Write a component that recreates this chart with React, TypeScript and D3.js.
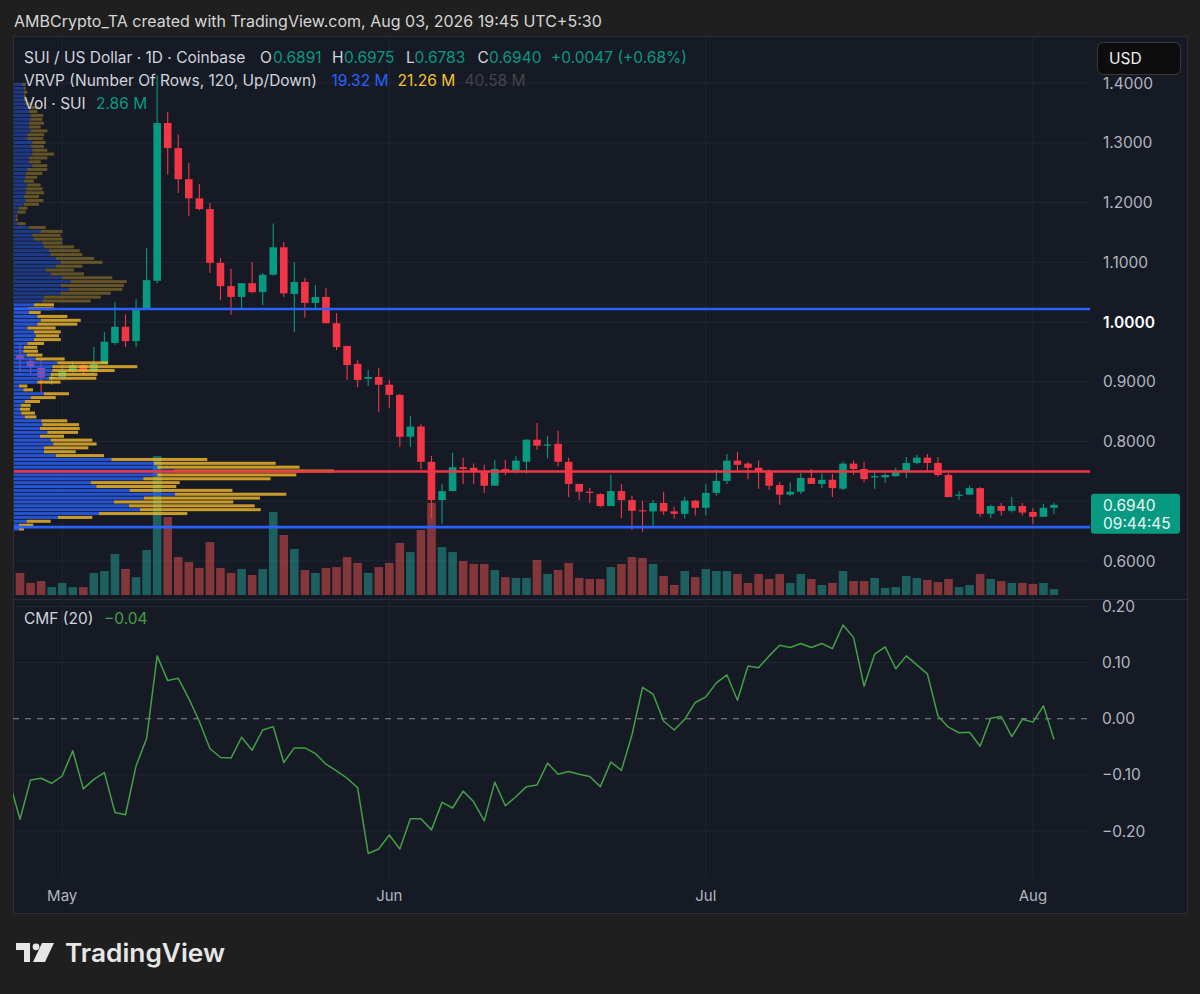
import React from 'react';
import * as d3 from 'd3';

// SUI / USD daily candles, Coinbase, first candle on 27 Apr 2026
const START_DAY = '2026-04-27';

const OPEN = [
  0.945, 0.935, 0.923, 0.906, 0.908, 0.918, 0.928, 0.918, 0.930, 0.965,
  0.992, 0.968, 1.023, 1.069, 1.333, 1.291, 1.239, 1.207, 1.189, 1.099,
  1.060, 1.042, 1.065, 1.050, 1.079, 1.125, 1.047, 1.067, 1.032, 1.042,
  0.998, 0.960, 0.930, 0.905, 0.908, 0.895, 0.878, 0.808, 0.825, 0.766,
  0.702, 0.717, 0.757, 0.756, 0.749, 0.726, 0.754, 0.751, 0.766, 0.803,
  0.793, 0.796, 0.766, 0.729, 0.716, 0.712, 0.692, 0.717, 0.702, 0.685,
  0.683, 0.697, 0.683, 0.679, 0.701, 0.689, 0.714, 0.734, 0.768, 0.763,
  0.756, 0.749, 0.727, 0.711, 0.716, 0.739, 0.729, 0.736, 0.721, 0.763,
  0.754, 0.740, 0.740, 0.742, 0.751, 0.764, 0.773, 0.764, 0.744, 0.709,
  0.711, 0.722, 0.679, 0.692, 0.684, 0.692, 0.682, 0.674, 0.6891,
];
const HIGH = [
  0.962, 0.940, 0.936, 0.915, 0.928, 0.933, 0.931, 0.958, 0.983, 1.033,
  1.013, 1.038, 1.124, 1.413, 1.351, 1.314, 1.266, 1.231, 1.199, 1.107,
  1.089, 1.065, 1.100, 1.082, 1.165, 1.134, 1.100, 1.074, 1.062, 1.057,
  1.015, 0.960, 0.936, 0.920, 0.923, 0.903, 0.880, 0.843, 0.829, 0.776,
  0.729, 0.781, 0.773, 0.763, 0.761, 0.769, 0.769, 0.776, 0.804, 0.831,
  0.809, 0.818, 0.773, 0.729, 0.722, 0.714, 0.744, 0.729, 0.709, 0.701,
  0.702, 0.716, 0.691, 0.707, 0.702, 0.729, 0.753, 0.779, 0.783, 0.766,
  0.768, 0.753, 0.732, 0.732, 0.747, 0.754, 0.747, 0.746, 0.766, 0.768,
  0.766, 0.751, 0.747, 0.756, 0.774, 0.778, 0.779, 0.774, 0.747, 0.717,
  0.726, 0.724, 0.694, 0.697, 0.707, 0.697, 0.689, 0.696, 0.6975,
];
const LOW = [
  0.916, 0.911, 0.881, 0.895, 0.905, 0.915, 0.912, 0.915, 0.930, 0.962,
  0.958, 0.958, 1.023, 1.065, 1.247, 1.216, 1.177, 1.187, 1.082, 1.037,
  1.012, 1.023, 1.048, 1.028, 1.078, 1.042, 0.983, 1.007, 1.023, 0.998,
  0.953, 0.903, 0.891, 0.893, 0.850, 0.856, 0.791, 0.791, 0.753, 0.671,
  0.662, 0.717, 0.729, 0.729, 0.714, 0.726, 0.744, 0.747, 0.746, 0.786,
  0.772, 0.758, 0.707, 0.702, 0.697, 0.690, 0.692, 0.672, 0.652, 0.649,
  0.657, 0.677, 0.671, 0.671, 0.676, 0.676, 0.709, 0.729, 0.751, 0.737,
  0.721, 0.719, 0.694, 0.709, 0.712, 0.729, 0.722, 0.707, 0.719, 0.744,
  0.732, 0.721, 0.731, 0.741, 0.739, 0.762, 0.751, 0.741, 0.707, 0.702,
  0.711, 0.674, 0.672, 0.676, 0.681, 0.676, 0.662, 0.674, 0.6783,
];
const CLOSE = [
  0.938, 0.925, 0.908, 0.908, 0.918, 0.928, 0.918, 0.930, 0.967, 0.992,
  0.968, 1.020, 1.070, 1.333, 1.291, 1.239, 1.207, 1.189, 1.099, 1.060,
  1.042, 1.065, 1.050, 1.079, 1.125, 1.048, 1.067, 1.032, 1.042, 0.998,
  0.958, 0.928, 0.903, 0.908, 0.895, 0.878, 0.808, 0.825, 0.766, 0.702,
  0.717, 0.757, 0.754, 0.749, 0.726, 0.754, 0.749, 0.768, 0.803, 0.793,
  0.795, 0.766, 0.729, 0.716, 0.714, 0.692, 0.717, 0.702, 0.684, 0.683,
  0.697, 0.683, 0.679, 0.701, 0.689, 0.714, 0.734, 0.768, 0.761, 0.756,
  0.749, 0.726, 0.711, 0.716, 0.739, 0.729, 0.736, 0.722, 0.763, 0.754,
  0.737, 0.742, 0.744, 0.749, 0.764, 0.773, 0.764, 0.744, 0.707, 0.711,
  0.722, 0.679, 0.692, 0.684, 0.692, 0.681, 0.674, 0.689, 0.6940,
];
// volume, millions of SUI
const VOLUME = [
  10.6, 5.8, 6.7, 3.8, 5.8, 3.8, 3.8, 10.6, 11.5, 19.7,
  12.5, 8.6, 21.6, 66.7, 37.4, 18.2, 15.8, 13.0, 25.4, 13.0,
  10.6, 12.5, 9.6, 12.5, 39.8, 28.8, 22.1, 12.0, 10.6, 13.0,
  13.4, 18.2, 15.4, 10.6, 13.4, 15.4, 25.0, 20.6, 31.2, 44.2,
  23.0, 20.6, 16.3, 14.9, 14.9, 12.0, 8.6, 8.2, 8.2, 16.8,
  10.1, 12.0, 15.4, 8.2, 7.7, 7.7, 13.4, 14.9, 18.2, 17.8,
  14.9, 9.1, 4.8, 11.5, 8.6, 12.5, 11.5, 11.5, 10.1, 5.8,
  10.1, 7.7, 10.1, 5.8, 10.1, 7.7, 4.8, 5.8, 11.5, 6.7,
  6.7, 8.2, 3.4, 3.8, 9.1, 8.2, 7.2, 6.2, 7.7, 3.8,
  4.8, 10.1, 7.7, 6.7, 5.8, 5.8, 5.3, 5.8, 2.86,
];
// Chaikin Money Flow (20), starting one day before START_DAY
const CMF = [
  -0.112, -0.179, -0.109, -0.106, -0.115, -0.102, -0.057, -0.125, -0.108, -0.096,
  -0.167, -0.171, -0.084, -0.035, 0.112, 0.068, 0.072, 0.036, -0.005, -0.053,
  -0.069, -0.070, -0.033, -0.056, -0.020, -0.014, -0.078, -0.052, -0.052, -0.062,
  -0.081, -0.093, -0.106, -0.123, -0.240, -0.232, -0.207, -0.232, -0.178, -0.178,
  -0.198, -0.149, -0.159, -0.129, -0.148, -0.182, -0.113, -0.155, -0.139, -0.121,
  -0.118, -0.079, -0.099, -0.094, -0.099, -0.103, -0.121, -0.077, -0.092, -0.029,
  0.056, 0.044, -0.004, -0.020, -0.001, 0.029, 0.039, 0.064, 0.078, 0.033,
  0.094, 0.091, 0.112, 0.131, 0.127, 0.134, 0.127, 0.134, 0.125, 0.167,
  0.145, 0.058, 0.115, 0.128, 0.089, 0.112, 0.096, 0.080, 0.005, -0.015,
  -0.025, -0.024, -0.049, 0.001, 0.004, -0.032, -0.001, -0.006, 0.023, -0.037,
];
// visible range volume profile, rows from top (high price) to bottom
const VRVP_UP = [
  8.4, 10, 10, 10, 10, 11.7, 15, 15, 16.7, 16, 15, 15, 16.7, 13.3, 13.3, 18.3, 16.7, 18.3, 18.3, 15,
  15, 18.3, 13.3, 11.7, 11.7, 10, 13.3, 11.7, 11.7, 10, 11.7, 10, 5, 3.3, 1.7, 1.7, 3.3, 15, 26.7, 18.3,
  20, 28.3, 30, 35, 36.7, 41.7, 46.7, 41.7, 31.7, 36.7, 48.3, 56.7, 46.7, 55, 46.7, 30, 28.3, 20, 13.3, 15,
  23.3, 26.7, 23.3, 13.3, 20, 21.7, 20, 13.3, 10, 9.3, 12.7, 21.7, 43.3, 38.3, 38.3, 36.7, 35, 23.3, 5, 9.3,
  30, 16.7, 10.7, 6.7, 6, 7.3, 10.7, 27.3, 28.3, 26, 33.3, 26, 36.7, 39.3, 30, 30, 41.7, 97.3, 140, 143.3,
  160, 143.3, 129.3, 76.7, 82.3, 115.7, 161, 130, 100, 115, 126, 85, 44, 12.7, 5, 5,
];
const VRVP_DOWN = [
  3.3, 1.7, 3.3, 1.7, 3.3, 6.7, 10, 8.3, 12.7, 12.3, 15, 11.7, 16.7, 16.7, 16, 13.3, 13.3, 15, 21.7, 18.3,
  11.7, 15, 20, 16.7, 11.7, 10, 13.3, 16.7, 18.3, 15, 17.7, 15, 8.3, 8.3, 1.7, 2.3, 8.3, 16.7, 21.7, 28.3,
  28.3, 20, 30, 30.7, 31.7, 38.3, 41.7, 26.7, 28.3, 33.3, 50, 56, 63.3, 53.3, 50, 56.7, 48.3, 20, 26.7, 11.7,
  30, 40, 40, 28.3, 26.7, 23.3, 26.7, 16.7, 13.3, 14.7, 15.7, 29, 50.7, 85, 62.3, 46.7, 47.3, 23.3, 8.3, 9.7,
  25, 25, 15.3, 10, 10, 13.7, 11.7, 26, 36.7, 39.7, 30.7, 24, 41.7, 43.3, 44.3, 31.7, 48.3, 96, 121.7, 142.3,
  160, 139, 127.3, 89, 80, 102.7, 111.3, 116, 119.3, 125.7, 120.7, 88.3, 34.3, 24, 14.3, 5,
];
const VRVP_RANGE = [0.651, 1.4];
const VALUE_AREA_FIRST_ROW = 57;

const LEVELS = [
  { price: 1.0217, color: '#2962ff' },
  { price: 0.7497, color: '#f23645' },
  { price: 0.6567, color: '#2962ff' },
];
const PRICE_TICKS = [0.6, 0.7, 0.8, 0.9, 1.0, 1.1, 1.2, 1.3, 1.4];
const CMF_TICKS = [-0.2, -0.1, 0, 0.1, 0.2];

const FONT = "Inter, 'Noto Sans', 'DejaVu Sans', sans-serif";
const UP = '#089981';
const DOWN = '#f23645';
const GRID = '#232735';
const AXIS_TEXT = '#b2b5be';
const LABEL = '#d1d4dc';

const W = 1200;
const H = 994;
const PANE = { left: 13, right: 1187, top: 36, bottom: 913 };
const PLOT_RIGHT = 1090;

export default function App() {
  const start = new Date(START_DAY + 'T00:00:00Z');
  const dates = CLOSE.map((_, i) => d3.utcDay.offset(start, i));

  const x = d3.scaleUtc().domain([dates[0], dates[dates.length - 1]]).range([20, 1054]);
  const y = d3.scaleLinear().domain([0.6, 1.4]).range([561, 83]);
  const yVol = d3.scaleLinear().domain([0, d3.max(VOLUME) as number]).range([595, 456]);
  const yCmf = d3.scaleLinear().domain([-0.2, 0.2]).range([831, 606.5]);
  const rows = d3.scaleBand<number>()
    .domain(d3.range(VRVP_UP.length))
    .range([y(VRVP_RANGE[1]), y(VRVP_RANGE[0])])
    .paddingInner(0.22);
  const vx = d3.scaleLinear().domain([0, 320]).range([0, 320]);

  const bodyW = 7.6;
  const volW = 8.6;

  const cmfLine = d3.line<number>()
    .x((_, k) => x(d3.utcDay.offset(start, k - 1)))
    .y(v => yCmf(v));

  const months = x.ticks(d3.utcMonth.every(1) as d3.TimeInterval);
  const monthFmt = d3.utcFormat('%b');
  const last = CLOSE[CLOSE.length - 1];
  const lastY = y(last);

  const fmtCmf = (v: number) => (v < 0 ? '\u2212' : '') + Math.abs(v).toFixed(2);

  return (
    <div style={{ position: 'absolute', left: 0, top: 0 }}>
      <svg width={W} height={H} viewBox={`0 0 ${W} ${H}`} style={{ display: 'block', fontFamily: FONT }}>
        <defs>
          <clipPath id="plot">
            <rect x={PANE.left} y={PANE.top} width={PLOT_RIGHT - PANE.left} height={878 - PANE.top} />
          </clipPath>
        </defs>

        <rect x={0} y={0} width={W} height={H} fill="#1f1f1f" />
        <text x={14} y={27} fontSize={16} fill="#d6d6d6">
          AMBCrypto_TA created with TradingView.com, Aug 03, 2026 19:45 UTC+5:30
        </text>

        <rect x={PANE.left + 0.5} y={PANE.top + 0.5} width={PANE.right - PANE.left} height={PANE.bottom - PANE.top}
          fill="#161a25" stroke="#2a2e39" />

        {/* grid */}
        <g clipPath="url(#plot)">
          {PRICE_TICKS.map(t => (
            <line key={'pg' + t} x1={PANE.left} x2={PLOT_RIGHT} y1={y(t)} y2={y(t)} stroke={GRID} />
          ))}
          {CMF_TICKS.filter(t => t !== 0).map(t => (
            <line key={'cg' + t} x1={PANE.left} x2={PLOT_RIGHT} y1={yCmf(t)} y2={yCmf(t)} stroke={GRID} />
          ))}
          {months.map(m => (
            <line key={'vg' + m.getTime()} x1={x(m)} x2={x(m)} y1={PANE.top} y2={878} stroke={GRID} />
          ))}
        </g>
        <line x1={PANE.left} x2={PANE.right} y1={599.5} y2={599.5} stroke="#2a2e39" />

        {/* volume */}
        <g clipPath="url(#plot)">
          {VOLUME.map((v, i) => (
            <rect key={'v' + i} x={x(dates[i]) - volW / 2} y={yVol(v)} width={volW} height={yVol(0) - yVol(v)}
              fill={CLOSE[i] >= OPEN[i] ? 'rgba(38,166,154,0.5)' : 'rgba(239,83,80,0.5)'} />
          ))}
        </g>

        {/* candles */}
        <g clipPath="url(#plot)">
          {CLOSE.map((c, i) => {
            const o = OPEN[i];
            const col = c >= o ? UP : DOWN;
            const cx = x(dates[i]);
            const top = y(Math.max(o, c));
            const bh = Math.max(1, y(Math.min(o, c)) - top);
            return (
              <g key={'c' + i}>
                <line x1={cx} x2={cx} y1={y(HIGH[i])} y2={y(LOW[i])} stroke={col} strokeWidth={1.1} />
                <rect x={cx - bodyW / 2} y={top} width={bodyW} height={bh} fill={col} />
              </g>
            );
          })}
        </g>

        {/* volume profile */}
        <g>
          {VRVP_UP.map((u, r) => {
            const inArea = r >= VALUE_AREA_FIRST_ROW;
            const yy = rows(r) as number;
            const h = rows.bandwidth();
            return (
              <g key={'r' + r}>
                <rect x={PANE.left + 1} y={yy} width={vx(u)} height={h}
                  fill="#2962ff" fillOpacity={inArea ? 0.8 : 0.45} />
                <rect x={PANE.left + 1 + vx(u)} y={yy} width={vx(VRVP_DOWN[r])} height={h}
                  fill="#fbc02d" fillOpacity={inArea ? 0.78 : 0.34} />
              </g>
            );
          })}
        </g>

        {/* horizontal levels */}
        {LEVELS.map(l => (
          <line key={'l' + l.price} x1={PANE.left + 1} x2={PLOT_RIGHT} y1={y(l.price)} y2={y(l.price)}
            stroke={l.color} strokeWidth={2.6} />
        ))}

        {/* CMF */}
        <line x1={PANE.left} x2={PLOT_RIGHT} y1={yCmf(0)} y2={yCmf(0)} stroke="#8a8d96" strokeDasharray="6,6" />
        <g clipPath="url(#plot)">
          <path d={cmfLine(CMF) as string} fill="none" stroke="#43a047" strokeWidth={1.5} strokeLinejoin="round" />
        </g>

        {/* price axis (the label under the last-price tag is hidden, as on the chart) */}
        {PRICE_TICKS.filter(t => Math.abs(y(t) - (lastY + 9)) > 26).map(t => (
          <text key={'pt' + t} x={1103} y={y(t)} dy="0.36em" fontSize={15.5}
            fill={t === 1 ? '#ffffff' : AXIS_TEXT} fontWeight={t === 1 ? 600 : 400}>
            {t.toFixed(4)}
          </text>
        ))}
        {CMF_TICKS.map(t => (
          <text key={'ct' + t} x={1102} y={yCmf(t)} dy="0.36em" fontSize={15.5} fill={AXIS_TEXT}>
            {fmtCmf(t)}
          </text>
        ))}

        {/* last price label */}
        <rect x={1091} y={lastY - 11} width={89} height={40} rx={3} fill="#089981" />
        <text x={1103} y={lastY + 6} fontSize={15.5} fill="#eaf7f4">{last.toFixed(4)}</text>
        <text x={1103} y={lastY + 24} fontSize={15.5} fill="#eaf7f4">09:44:45</text>

        {/* currency button */}
        <rect x={1097.5} y={42.5} width={83} height={32} rx={6} fill="#0d0d0d" stroke="#3a3a3a" />
        <text x={1109} y={64} fontSize={15.5} fill="#f0f0f0">USD</text>

        {/* time axis */}
        {months.map(m => (
          <text key={'mt' + m.getTime()} x={x(m)} y={901} textAnchor="middle" fontSize={15} fill={AXIS_TEXT}>
            {monthFmt(m)}
          </text>
        ))}

        {/* legends */}
        <g fontSize={15.5}>
          <text x={24} y={63} fill={LABEL}>SUI / US Dollar · 1D · Coinbase</text>
          <text x={260} y={63} fill={LABEL}>O</text>
          <text x={273} y={63} fill={UP}>0.6891</text>
          <text x={332} y={63} fill={LABEL}>H</text>
          <text x={344} y={63} fill={UP}>0.6975</text>
          <text x={406} y={63} fill={LABEL}>L</text>
          <text x={414.5} y={63} fill={UP}>0.6783</text>
          <text x={477.5} y={63} fill={LABEL}>C</text>
          <text x={489} y={63} fill={UP}>0.6940</text>
          <text x={551} y={63} fill={UP}>+0.0047 (+0.68%)</text>

          <text x={24} y={86} fill={LABEL}>VRVP (Number Of Rows, 120, Up/Down)</text>
          <text x={331.5} y={86} fill="#2962ff">19.32 M</text>
          <text x={397.5} y={86} fill="#f7c12d">21.26 M</text>
          <text x={464.5} y={86} fill="#454545">40.58 M</text>

          <text x={24} y={109} fill={LABEL}>Vol · SUI</text>
          <text x={96} y={109} fill={UP}>2.86 M</text>

          <text x={24} y={624} fill={LABEL}>CMF (20)</text>
          <text x={104} y={624} fill="#43a047">{fmtCmf(CMF[CMF.length - 1])}</text>
        </g>

        {/* TradingView brand */}
        <g fill="#e6e6e6">
          <path d="M16,943 H30 V962 H24 V950 H16 Z" />
          <circle cx={36} cy={946.8} r={3.4} />
          <path d="M42,943 H54 L45,962 H33 Z" />
          <text x={65} y={962} fontSize={25.5} fontWeight={600} textLength={160} lengthAdjust="spacingAndGlyphs">
            TradingView
          </text>
        </g>
      </svg>
    </div>
  );
}
